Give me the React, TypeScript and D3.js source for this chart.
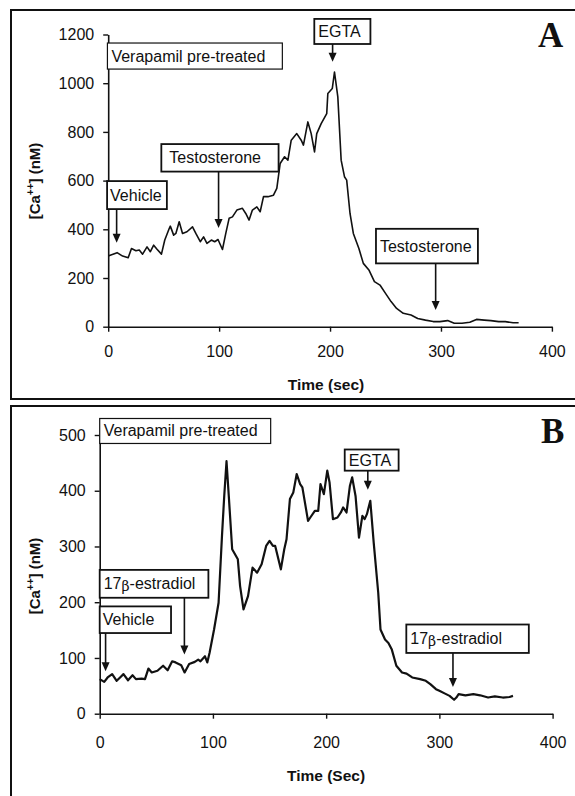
import React, { useEffect, useRef } from 'react';
import * as d3 from 'd3';

// panel A trace (time in sec, [Ca++] in nM)
const timeA = [0, 8, 13, 18, 21, 25, 28, 31, 35, 38, 41, 44, 48, 51, 55, 56, 59, 61, 64, 67, 71, 76, 79, 83, 86, 89, 93, 96, 99, 103, 106, 109, 112, 116, 121, 124, 127, 130, 134, 137, 140, 144, 149, 152, 155, 159, 162, 165, 170, 174, 176, 180, 183, 186, 188, 192, 197, 198, 202, 204, 207, 210, 213, 215, 218, 221, 226, 230, 235, 240, 245, 250, 255, 260, 266, 273, 279, 286, 293, 299, 306, 312, 319, 326, 332, 339, 345, 352, 358, 365, 370];
const caA = [290, 304, 290, 283, 321, 312, 315, 298, 328, 308, 335, 318, 298, 356, 403, 413, 376, 383, 431, 383, 390, 410, 383, 349, 369, 342, 356, 349, 358, 317, 383, 445, 451, 479, 486, 465, 438, 479, 492, 472, 534, 534, 540, 568, 670, 698, 684, 766, 793, 766, 746, 841, 793, 718, 793, 834, 875, 958, 978, 1046, 944, 684, 616, 602, 465, 383, 321, 260, 233, 185, 171, 137, 103, 75, 55, 48, 34, 27, 21, 21, 25, 14, 14, 18, 30, 27, 25, 21, 21, 16, 16];

// panel B trace
const timeB = [0, 4, 7, 11, 15, 18, 21, 25, 29, 32, 37, 40, 43, 46, 51, 56, 60, 64, 67, 72, 75, 79, 84, 87, 89, 93, 95, 97, 101, 105, 108, 110, 112, 114, 117, 122, 124, 127, 131, 135, 139, 143, 147, 150, 153, 155, 160, 163, 165, 168, 171, 174, 177, 179, 184, 186, 190, 193, 195, 198, 201, 203, 206, 210, 213, 215, 218, 221, 223, 226, 229, 232, 234, 236, 239, 242, 246, 248, 252, 255, 258, 262, 267, 271, 276, 283, 288, 292, 297, 300, 305, 309, 313, 315, 317, 323, 330, 336, 343, 349, 356, 362, 365];
const caB = [62, 57, 65, 71, 59, 65, 71, 60, 69, 62, 63, 62, 81, 74, 77, 86, 78, 94, 92, 87, 74, 89, 93, 97, 94, 103, 92, 109, 151, 199, 319, 391, 453, 391, 295, 277, 229, 187, 211, 262, 253, 268, 301, 310, 301, 301, 259, 295, 313, 385, 397, 430, 412, 406, 346, 352, 364, 364, 412, 394, 436, 415, 349, 352, 361, 370, 361, 409, 424, 390, 316, 355, 349, 358, 382, 307, 217, 151, 133, 127, 115, 86, 74, 72, 65, 62, 59, 53, 44, 41, 36, 32, 25, 29, 35, 33, 35, 33, 29, 31, 29, 30, 32];

const timeTicks = [0, 100, 200, 300, 400];
const caTicksA = [0, 200, 400, 600, 800, 1000, 1200];
const caTicksB = [0, 100, 200, 300, 400, 500];

// boxed labels: box spans t0..t1 / v0..v1 in data units, arrow at t pointing to tip
const notesA = [
  { label: 'Verapamil pre-treated', t0: -0.7, t1: 157, v0: 1165, v1: 1058, pad: 4, thin: true },
  { label: 'EGTA', t0: 185.8, t1: 236.4, v0: 1264, v1: 1161, pad: 4, arrow: 202.3, tip: 1088 },
  { label: 'Testosterone', t0: 47.9, t1: 153.6, v0: 750, v1: 637, pad: 8, arrow: 99.5, tip: 405 },
  { label: 'Vehicle', t0: -1, t1: 52.9, v0: 598, v1: 483, pad: 3, arrow: 7.6, tip: 345 },
  { label: 'Testosterone', t0: 241.4, t1: 333.3, v0: 402, v1: 260, pad: 4, arrow: 295.2, tip: 69 },
];
const notesB = [
  { label: 'Verapamil pre-treated', t0: 0, t1: 151, v0: 529.6, v1: 484.8, pad: 4, thin: true },
  { label: 'EGTA', t0: 216.4, t1: 264, v0: 474, v1: 436, pad: 4, arrow: 236.8, tip: 402 },
  { label: '17β-estradiol', t0: 0, t1: 96, v0: 258, v1: 208, pad: 4, arrow: 74.8, tip: 106 },
  { label: 'Vehicle', t0: 0, t1: 63, v0: 192.5, v1: 144.7, pad: 3, arrow: 5.2, tip: 76 },
  { label: '17β-estradiol', t0: 270.8, t1: 379, v0: 160, v1: 109, pad: 4, arrow: 312, tip: 48 },
];

const font = '"Liberation Sans", Arial, sans-serif';

const drawPanel = (svg, p) => {
  const x = d3.scaleLinear().domain([0, 400]).range([p.x0, p.x1]);
  const y = d3.scaleLinear().domain([0, p.yMax]).range([p.y0, p.y1]);
  const g = svg.append('g');

  // frame
  g.append('rect')
    .attr('x', p.frame[0]).attr('y', p.frame[1])
    .attr('width', p.frame[2]).attr('height', p.frame[3])
    .attr('fill', 'none').attr('stroke', '#111').attr('stroke-width', 2);

  // axes
  const ya = g.append('g').attr('transform', 'translate(' + p.x0 + ',0)')
    .call(d3.axisLeft(y).tickValues(p.yTicks).tickFormat(d3.format('d')).tickSizeInner(5).tickSizeOuter(0).tickPadding(p.yPad));
  const xa = g.append('g').attr('transform', 'translate(0,' + p.y0 + ')')
    .call(d3.axisBottom(x).tickValues(timeTicks).tickFormat(d3.format('d')).tickSizeInner(5).tickSizeOuter(0).tickPadding(p.xPad));
  [ya, xa].forEach(a => {
    a.selectAll('path').attr('stroke', '#111').attr('stroke-width', 1.6);
    a.selectAll('line').attr('stroke', '#111').attr('stroke-width', 1.4);
    a.selectAll('text').attr('font-family', font).attr('font-size', 16).attr('fill', '#111');
  });

  // trace
  const line = d3.line().x(d => x(d[0])).y(d => y(d[1]));
  g.append('path')
    .datum(p.time.map((t, i) => [t, p.ca[i]]))
    .attr('d', line)
    .attr('fill', 'none').attr('stroke', '#111')
    .attr('stroke-width', p.lw).attr('stroke-linejoin', 'round');

  // boxed annotations
  p.notes.forEach(n => {
    const bx = x(n.t0), by = y(n.v0), bw = x(n.t1) - x(n.t0), bh = y(n.v1) - y(n.v0);
    g.append('rect')
      .attr('x', bx).attr('y', by).attr('width', bw).attr('height', bh)
      .attr('fill', '#fff').attr('stroke', '#111').attr('stroke-width', n.thin ? 1.2 : 1.8);
    const parts = n.label.split('β');
    const txt = g.append('text')
      .attr('x', bx + n.pad).attr('y', by + bh / 2 + 5.5)
      .attr('font-family', font).attr('font-size', 16).attr('fill', '#111');
    txt.append('tspan').text(parts[0]);
    if (parts.length > 1) {
      txt.append('tspan').attr('font-family', '"DejaVu Serif", serif').attr('font-size', 14).attr('dy', 2).text('β');
      txt.append('tspan').attr('dy', -2).text(parts[1]);
    }
    if (n.arrow !== undefined) {
      const ax = x(n.arrow), tip = y(n.tip);
      g.append('line')
        .attr('x1', ax).attr('x2', ax).attr('y1', by + bh).attr('y2', tip - 7)
        .attr('stroke', '#111').attr('stroke-width', 1.6);
      g.append('path')
        .attr('d', 'M' + (ax - 4) + ',' + (tip - 9) + 'L' + (ax + 4) + ',' + (tip - 9) + 'L' + ax + ',' + tip + 'Z')
        .attr('fill', '#111');
    }
  });

  // axis titles
  g.append('text')
    .attr('x', p.titleX[0]).attr('y', p.titleX[1])
    .attr('text-anchor', 'middle').attr('font-family', font).attr('font-weight', 'bold')
    .attr('font-size', 15.5).attr('fill', '#111').text(p.xLabel);
  const yl = g.append('text')
    .attr('transform', 'translate(' + p.titleY[0] + ',' + p.titleY[1] + ') rotate(-90)')
    .attr('text-anchor', 'middle').attr('font-family', font).attr('font-weight', 'bold')
    .attr('font-size', 15).attr('fill', '#111');
  yl.append('tspan').text('[Ca');
  yl.append('tspan').attr('font-size', 10).attr('dy', -6).text('++');
  yl.append('tspan').attr('dy', 6).text('] (nM)');

  // panel letter
  g.append('text')
    .attr('x', p.letterPos[0]).attr('y', p.letterPos[1])
    .attr('font-family', '"Liberation Serif", "Times New Roman", serif').attr('font-weight', 'bold')
    .attr('font-size', 35).attr('fill', '#111').text(p.letter);
};

const HorizontalPanels = () => {
  const ref = useRef(null);

  useEffect(() => {
    const svg = d3.select(ref.current);
    svg.selectAll('*').remove();
    drawPanel(svg, {
      time: timeA, ca: caA, notes: notesA, yTicks: caTicksA, yMax: 1200,
      x0: 108.2, x1: 551.9, y0: 326.7, y1: 34.5, lw: 1.6, yPad: 9, xPad: 14,
      frame: [11, 10, 575, 389], titleX: [326, 390], titleY: [40, 181],
      xLabel: 'Time (sec)', letter: 'A', letterPos: [538, 46.5],
    });
    drawPanel(svg, {
      time: timeB, ca: caB, notes: notesB, yTicks: caTicksB, yMax: 500,
      x0: 99.7, x1: 552.6, y0: 713.7, y1: 435, lw: 2.2, yPad: 9, xPad: 18,
      frame: [11, 406, 575, 400], titleX: [326, 781], titleY: [40, 576],
      xLabel: 'Time (Sec)', letter: 'B', letterPos: [541, 443],
    });
  }, []);

  return <svg ref={ref} width={575} height={796} style={{ display: 'block', position: 'absolute', left: 0, top: 0 }} />;
};

export default function App() {
  return <HorizontalPanels />;
}
